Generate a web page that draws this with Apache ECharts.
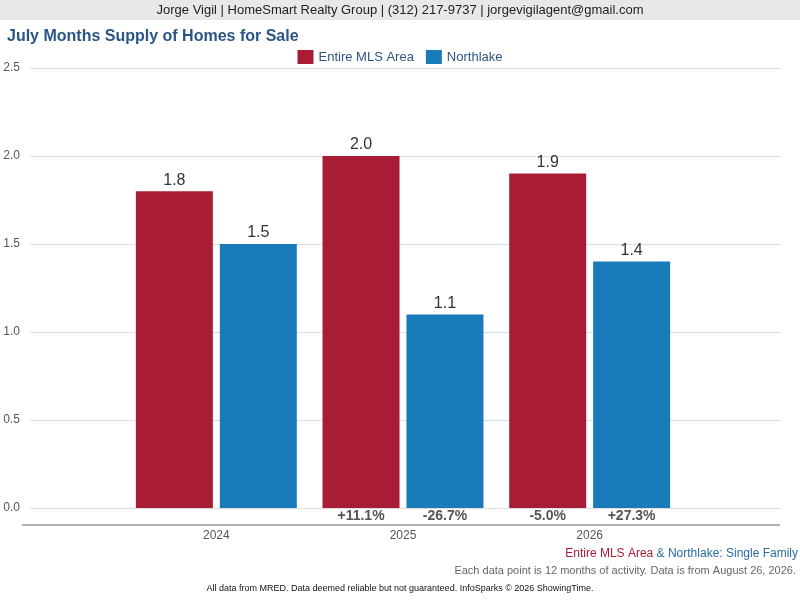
<!DOCTYPE html>
<html><head><meta charset="utf-8">
<script src="https://cdn.jsdelivr.net/npm/echarts@6/dist/echarts.min.js"></script>
<style>html,body{margin:0;padding:0;background:#fff}#c{width:800px;height:600px}</style>
</head><body><div id="c"></div>
<script>
const years = ['2024', '2025', '2026'];
const mlsArea = [1.8, 2.0, 1.9];
const northlake = [1.5, 1.1, 1.4];
const mlsChange = ['', '+11.1%', '-5.0%'];
const northlakeChange = ['', '-26.7%', '+27.3%'];

const red = '#a91c35', blue = '#1a7bbb', font = 'Arial, "Liberation Sans", sans-serif';
const chart = echarts.init(document.getElementById('c'));

const chgLabel = (arr) => ({
  show: true, position: 'bottom', distance: 1,
  fontFamily: font, fontSize: 14, fontWeight: 'bold', color: '#555',
  formatter: (p) => arr[p.dataIndex]
});
const valLabel = {
  show: true, position: 'top', fontSize: 16, color: '#333', distance: 3,
  formatter: (p) => p.value.toFixed(1)
};

chart.setOption({
  animation: false,
  textStyle: { fontFamily: font },
  graphic: [
    { type: 'rect', shape: { x: 0, y: 0, width: 800, height: 20 }, style: { fill: '#e8e8e8' } },
    { type: 'text', x: 400, y: 10, style: { text: 'Jorge Vigil | HomeSmart Realty Group | (312) 217-9737 | jorgevigilagent@gmail.com', font: '13px ' + font, fill: '#222', align: 'center', verticalAlign: 'middle' } },
    { type: 'line', shape: { x1: 22, y1: 525, x2: 780, y2: 525 }, style: { stroke: '#666', lineWidth: 1 } },
    { type: 'text', x: 798, y: 554, style: { rich: { r: { fill: red, font: '12px ' + font }, b: { fill: '#2a6ca8', font: '12px ' + font } }, text: '{r|Entire MLS Area} {b|& Northlake: Single Family}', align: 'right', verticalAlign: 'middle' } },
    { type: 'text', x: 796, y: 571, style: { text: 'Each data point is 12 months of activity. Data is from August 26, 2026.', font: '11px ' + font, fill: '#666', align: 'right', verticalAlign: 'middle' } },
    { type: 'text', x: 400, y: 589, style: { text: 'All data from MRED. Data deemed reliable but not guaranteed. InfoSparks © 2026 ShowingTime.', font: '9px ' + font, fill: '#111', align: 'center', verticalAlign: 'middle' } }
  ],
  title: { text: 'July Months Supply of Homes for Sale', left: 2, top: 24, textStyle: { fontSize: 16, fontWeight: 'bold', color: '#2b5585' } },
  legend: {
    data: ['Entire MLS Area', 'Northlake'], top: 45, left: 'center', itemWidth: 16, itemHeight: 14,
    icon: 'rect', itemGap: 12, textStyle: { fontSize: 13, color: '#2b5585' }
  },
  grid: [
    { left: 30, right: 20, top: 68, bottom: 92 },
    { left: 123, right: 117, top: 68, bottom: 92 }
  ],
  xAxis: [
    { gridIndex: 0, type: 'category', data: years, show: false },
    { gridIndex: 1, type: 'category', data: years, offset: 16,
      axisLine: { show: false }, axisTick: { show: false },
      axisLabel: { color: '#555', fontSize: 12, margin: 6 } }
  ],
  yAxis: [
    { gridIndex: 0, type: 'value', min: 0, max: 2.5, interval: 0.5,
      axisLabel: { color: '#555', fontSize: 12, formatter: (v) => v.toFixed(1), margin: 10 },
      splitLine: { lineStyle: { color: '#ddd' } } },
    { gridIndex: 1, type: 'value', min: 0, max: 2.5, interval: 0.5, show: false, splitLine: { show: false } }
  ],
  series: [
    { name: 'mlsChg', type: 'bar', xAxisIndex: 1, yAxisIndex: 1, stack: 'r', data: [0, 0, 0],
      barWidth: 77, barGap: '9%', itemStyle: { color: red }, label: chgLabel(mlsChange) },
    { name: 'nlChg', type: 'bar', xAxisIndex: 1, yAxisIndex: 1, stack: 'b', data: [0, 0, 0],
      barWidth: 77, itemStyle: { color: blue }, label: chgLabel(northlakeChange) },
    { name: 'Entire MLS Area', type: 'bar', xAxisIndex: 1, yAxisIndex: 1, stack: 'r', data: mlsArea,
      barWidth: 77, itemStyle: { color: red }, label: valLabel },
    { name: 'Northlake', type: 'bar', xAxisIndex: 1, yAxisIndex: 1, stack: 'b', data: northlake,
      barWidth: 77, itemStyle: { color: blue }, label: valLabel },
    { type: 'line', xAxisIndex: 0, yAxisIndex: 0, data: [], silent: true }
  ]
});
</script></body></html>
